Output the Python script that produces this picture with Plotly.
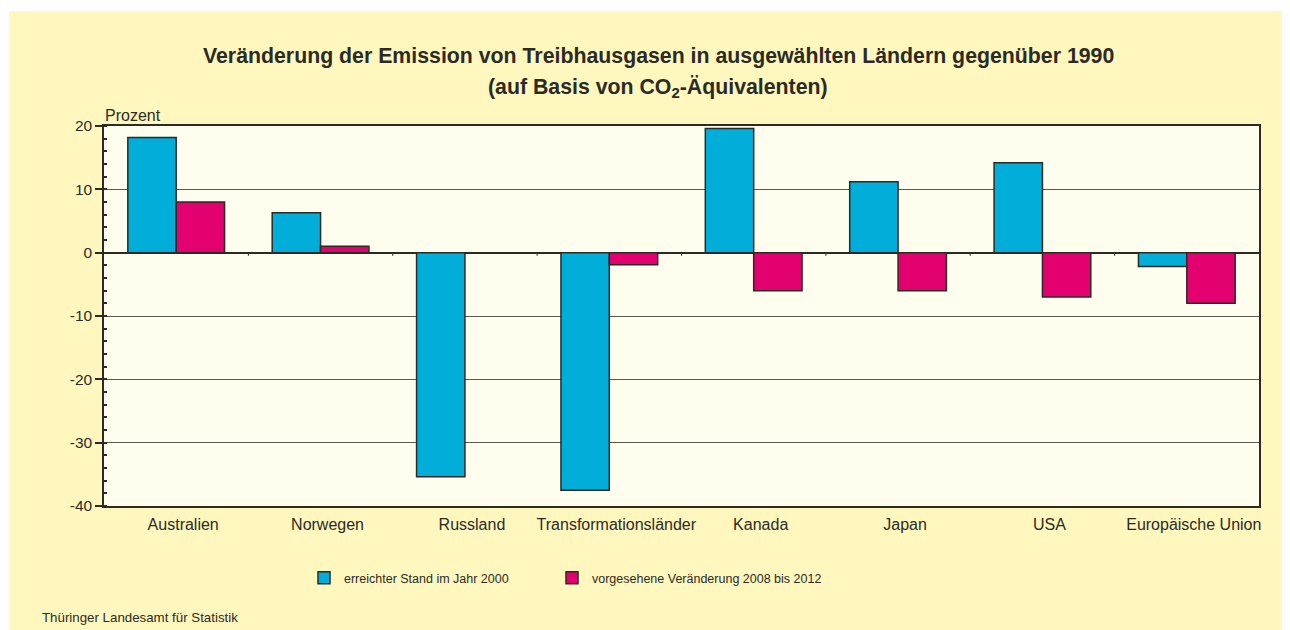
import plotly.graph_objects as go

categories = ["Australien", "Norwegen", "Russland", "Transformationsländer",
              "Kanada", "Japan", "USA", "Europäische Union"]
stand_2000 = [18.2, 6.3, -35.4, -37.5, 19.6, 11.2, 14.2, -2.2]
ziel_2008_2012 = [8.0, 1.0, 0.0, -1.9, -6.0, -6.0, -7.0, -8.0]
series_names = ["erreichter Stand im Jahr 2000", "vorgesehene Veränderung 2008 bis 2012"]
y_ticks = [20, 10, 0, -10, -20, -30, -40]

OFF = 8  # page body margin
W, H = 1290, 630
ML, MR, MT, MB = 96, 39, 118, 132
PW, PH = W - ML - MR, H - MT - MB

def px_x(p):  # p in page pixels
    return (p - OFF - ML) / PW

def px_y(p):
    return (H - MB - (p - OFF)) / PH

BLUE = "#00AED9"
RED = "#E3006F"
OUTER = "#FFF7BE"
INNER = "#FFFDEE"
DARK = "#2b2b24"
FONT = "Liberation Sans, Arial, sans-serif"

fig = go.Figure()
fig.add_trace(go.Bar(x=categories, y=stand_2000, name=series_names[0], legend="legend",
                     marker=dict(color=BLUE, line=dict(color=DARK, width=1.5))))
fig.add_trace(go.Bar(x=categories, y=ziel_2008_2012, name=series_names[1], legend="legend2",
                     marker=dict(color=RED, line=dict(color=DARK, width=1.5))))

shapes = []
# thin white strips at the top and left edge of the page
shapes.append(dict(type="rect", xref="paper", yref="paper", layer="above",
                   x0=px_x(0), x1=px_x(9), y0=px_y(H + OFF), y1=px_y(0),
                   fillcolor="white", line=dict(width=0)))
shapes.append(dict(type="rect", xref="paper", yref="paper", layer="above",
                   x0=px_x(0), x1=px_x(W + OFF), y0=px_y(11), y1=px_y(0),
                   fillcolor="white", line=dict(width=0)))
# small tick marks on the zero line between categories
for i in range(1, len(categories)):
    shapes.append(dict(type="line", xref="x", yref="y", x0=i - 0.5, x1=i - 0.5,
                       y0=0, y1=-0.5, line=dict(color=DARK, width=1)))

annotations = [
    dict(text="<b>Veränderung der Emission von Treibhausgasen in ausgewählten Ländern gegenüber 1990</b>",
         xref="paper", yref="paper", x=px_x(658), y=px_y(56), xanchor="center", yanchor="middle",
         showarrow=False, font=dict(family=FONT, size=21.3, color=DARK)),
    dict(text="<b>(auf Basis von CO<sub>2</sub>-Äquivalenten)</b>",
         xref="paper", yref="paper", x=px_x(658), y=px_y(88), xanchor="center", yanchor="middle",
         showarrow=False, font=dict(family=FONT, size=21.3, color=DARK)),
    dict(text="Prozent", xref="paper", yref="paper", x=px_x(103), y=px_y(115),
         xanchor="left", yanchor="middle", showarrow=False,
         font=dict(family=FONT, size=16, color=DARK)),
    dict(text="Thüringer Landesamt für Statistik", xref="paper", yref="paper",
         x=px_x(40), y=px_y(617), xanchor="left", yanchor="middle", showarrow=False,
         font=dict(family=FONT, size=13.3, color=DARK)),
]

legend_common = dict(orientation="h", yanchor="middle", xanchor="left",
                     bgcolor="rgba(0,0,0,0)", itemwidth=30,
                     font=dict(family=FONT, size=12.5, color=DARK))

fig.update_layout(
    width=W, height=H,
    margin=dict(l=ML, r=MR, t=MT, b=MB, autoexpand=False),
    paper_bgcolor=OUTER, plot_bgcolor=INNER,
    barmode="group", bargap=0.33, bargroupgap=0,
    font=dict(family=FONT, size=15, color=DARK),
    showlegend=True,
    legend=dict(x=px_x(304), y=px_y(578), **legend_common),
    legend2=dict(x=px_x(552), y=px_y(578), **legend_common),
    shapes=shapes,
    annotations=annotations,
    xaxis=dict(type="category", showline=True, mirror=True, linecolor=DARK, linewidth=1.5,
               ticks="", showgrid=False, tickfont=dict(family=FONT, size=16, color=DARK),
               ticklabelstandoff=3, ticklabelshift=7),
    yaxis=dict(range=[-40, 20], tickvals=y_ticks, ticktext=[str(v) for v in y_ticks],
               showline=True, mirror=True, linecolor=DARK, linewidth=1.5,
               ticks="outside", ticklen=7, tickcolor=DARK, tickwidth=1.5,
               showgrid=True, gridcolor="#5a5a50", gridwidth=1,
               zeroline=True, zerolinecolor=DARK, zerolinewidth=2,
               minor=dict(dtick=2, ticks="inside", ticklen=3, tickcolor=DARK, showgrid=False),
               tickfont=dict(family=FONT, size=15.5, color=DARK)),
)

fig.write_html("out.html", post_script="document.body.style.overflow='hidden';")
